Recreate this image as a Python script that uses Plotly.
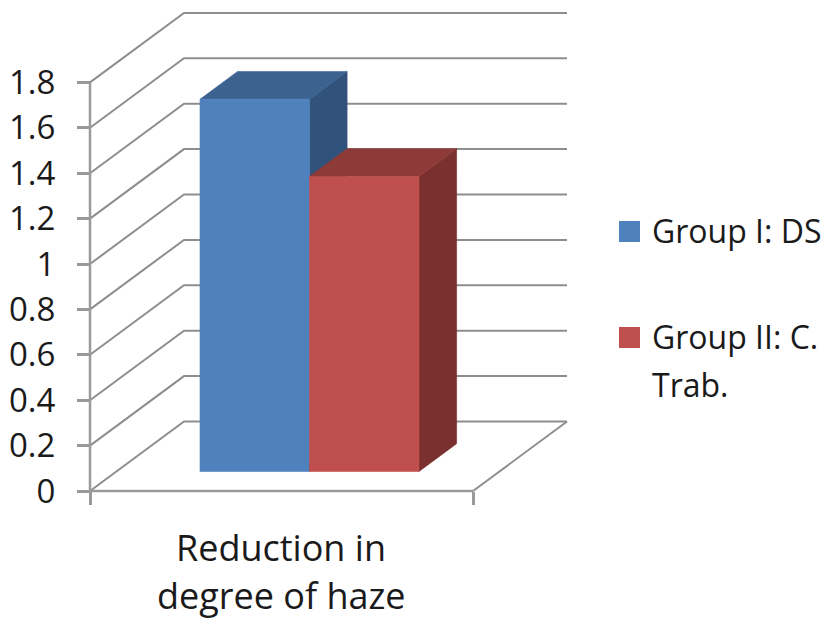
import plotly.graph_objects as go

# Chart values
category_lines = ["Reduction in", "degree of haze"]
series_lines = [["Group I: DS"], ["Group II: C.", "Trab."]]
series_values = [1.64, 1.30]
y_ticks = [0, 0.2, 0.4, 0.6, 0.8, 1, 1.2, 1.4, 1.6, 1.8]
y_tick_labels = ["0", "0.2", "0.4", "0.6", "0.8", "1", "1.2", "1.4", "1.6", "1.8"]

# Face colours: front, top, side
front_colors = ["#4F81BD", "#C0504D"]
top_colors = ["#3C6290", "#8E3A38"]
side_colors = ["#31527A", "#7A302E"]
GRID = "#8E8E8E"
AXIS = "#9A9A9A"
TEXT = "#1A1A1A"
FONT = "Open Sans"

# Plot frame: pixels per axis unit
W, H = 832, 620
PX_X, PX_Y = 383.0, 227.0
ORIGIN_X, ORIGIN_Y = 90.0, 491.0

# Oblique projection: a full step into the depth moves right and up
DEPTH_X, DEPTH_Y = 94.0 / PX_X, 69.5 / PX_Y
Y_TOP = y_ticks[-1]

# Bars stand between these depth fractions, inside the floor
BAR_FRONT, BAR_BACK = 0.28, 0.68
BAR_WIDTH = 109.5 / PX_X
BAR_START = (200.0 - ORIGIN_X - 0.28 * 94.0) / PX_X


def project(x, y, depth):
    return x + depth * DEPTH_X, y + depth * DEPTH_Y


def polygon(points):
    pts = [project(*p) for p in points] + [project(*points[0])]
    return [p[0] for p in pts], [p[1] for p in pts]


fig = go.Figure()


def add_line(points, color=GRID, width=2.0):
    pts = [project(*p) for p in points]
    fig.add_trace(go.Scatter(
        x=[p[0] for p in pts], y=[p[1] for p in pts], mode="lines",
        line=dict(color=color, width=width), hoverinfo="skip", showlegend=False,
    ))


def add_face(points, color):
    xs, ys = polygon(points)
    fig.add_trace(go.Scatter(
        x=xs, y=ys, mode="lines", fill="toself", fillcolor=color,
        line=dict(color=color, width=0.6), hoverinfo="skip", showlegend=False,
    ))


def add_text_line(text, x_px, y_px, size, anchor):
    fig.add_annotation(
        xref="paper", yref="paper", x=x_px / W, y=1 - y_px / H,
        text=text, showarrow=False, xanchor=anchor, yanchor="middle",
        font=dict(family=FONT, size=size, color=TEXT),
    )


# Side wall and back wall gridlines
for t in y_ticks:
    add_line([(0, t, 0), (0, t, 1), (1, t, 1)])

# Floor outline and the front axis edges
add_line([(1, 0, 1), (1, 0, 0)])
add_line([(0, 0, 0), (1, 0, 0)], color=AXIS, width=2.5)
add_line([(0, 0, 0), (0, Y_TOP, 0)], color=AXIS, width=2.5)

# Bars: side and top faces first, then the front face
for i, value in enumerate(series_values):
    x0 = BAR_START + i * BAR_WIDTH
    x1 = x0 + BAR_WIDTH
    add_face([(x1, 0, BAR_FRONT), (x1, 0, BAR_BACK), (x1, value, BAR_BACK), (x1, value, BAR_FRONT)], side_colors[i])
    add_face([(x0, value, BAR_FRONT), (x0, value, BAR_BACK), (x1, value, BAR_BACK), (x1, value, BAR_FRONT)], top_colors[i])
    add_face([(x0, 0, BAR_FRONT), (x1, 0, BAR_FRONT), (x1, value, BAR_FRONT), (x0, value, BAR_FRONT)], front_colors[i])

# Legend entries: swatch centre row, then one row per text line
legend_rows = [(231.5, [230.0]), (337.5, [336.0, 384.0])]
for color, lines, (swatch_y, text_rows) in zip(front_colors, series_lines, legend_rows):
    fig.add_shape(
        type="rect", xref="paper", yref="paper",
        x0=619 / W, x1=640 / W,
        y0=1 - (swatch_y + 10.5) / H, y1=1 - (swatch_y - 10.5) / H,
        fillcolor=color, line=dict(width=0),
    )
    for line, row in zip(lines, text_rows):
        add_text_line(line, 650, row, 32, "left")

# Category label beneath the floor
for line, row in zip(category_lines, [547.0, 595.0]):
    add_text_line(line, 281, row, 36, "center")

fig.update_layout(
    width=W, height=H, margin=dict(l=0, r=0, t=0, b=0),
    paper_bgcolor="white", plot_bgcolor="white", showlegend=False,
    xaxis=dict(
        range=[-ORIGIN_X / PX_X, (W - ORIGIN_X) / PX_X],
        anchor="free", position=(H - ORIGIN_Y) / H,
        tickvals=[0, 1], ticktext=["", ""], ticks="outside", ticklen=13,
        tickcolor=AXIS, tickwidth=2.5, showgrid=False, zeroline=False, showline=False,
    ),
    yaxis=dict(
        range=[-(H - ORIGIN_Y) / PX_Y, ORIGIN_Y / PX_Y],
        anchor="free", position=ORIGIN_X / W,
        tickvals=y_ticks, ticktext=y_tick_labels, ticks="outside", ticklen=13,
        tickcolor=AXIS, tickwidth=2.5, ticklabelstandoff=15,
        tickfont=dict(family=FONT, size=33, color=TEXT),
        showgrid=False, zeroline=False, showline=False,
    ),
)

fig.write_html("out.html")
